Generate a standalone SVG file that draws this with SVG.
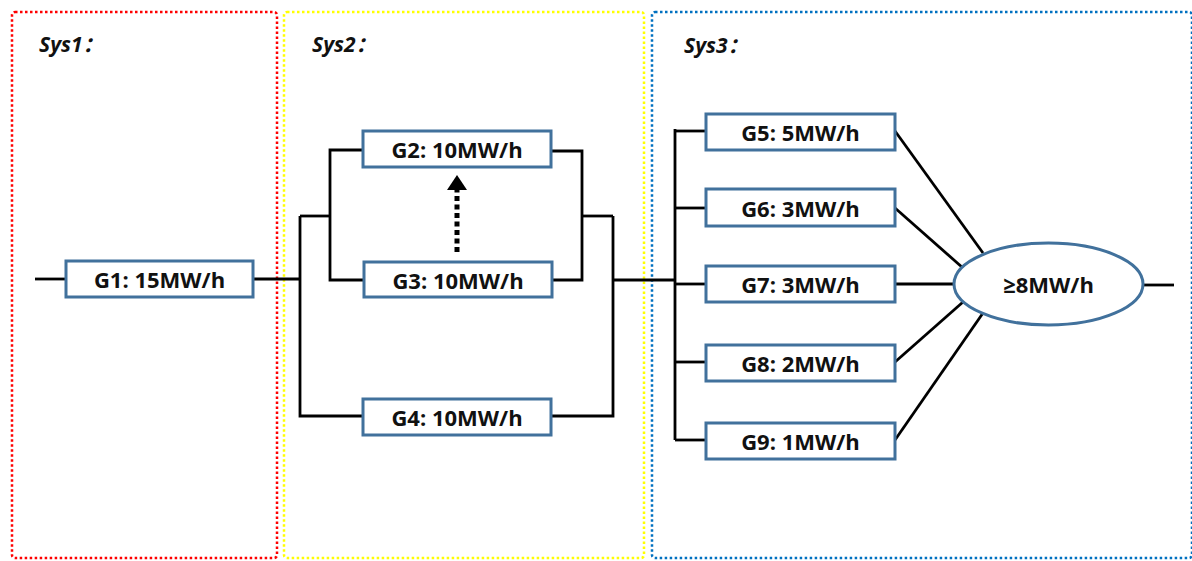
<svg xmlns="http://www.w3.org/2000/svg" width="1192" height="561" viewBox="0 0 1192 561">
<style>
.sys{fill:none;stroke-width:2.5;stroke-dasharray:2.5 2.5}
.node rect,.node ellipse{fill:#fff;stroke:#41719C;stroke-width:3}
.node text{font-family:"Open Sans","Noto Sans",sans-serif;font-weight:700;font-size:22px;fill:#111;text-anchor:middle;dominant-baseline:central}
.lbl{font-family:"Open Sans","Noto Sans CJK SC",sans-serif;font-weight:700;font-style:italic;font-size:21px;fill:#111}
#connectors path,#connectors line{fill:none;stroke:#000;stroke-width:2.8}
</style>
<rect width="1192" height="561" fill="#fff"/>
<g id="systems">
<rect class="sys" x="12" y="12" width="265" height="546" rx="3" stroke="#FF0000"/>
<rect class="sys" x="284" y="12" width="360" height="546" rx="3" stroke="#FFFF00"/>
<rect class="sys" x="652" y="12" width="540" height="546" rx="3" stroke="#0070C0"/>
<text class="lbl" x="39" y="52">Sys1：</text>
<text class="lbl" x="312" y="52">Sys2：</text>
<text class="lbl" x="684" y="53">Sys3：</text>
</g>
<g id="connectors">
<path d="M35 279H66"/>
<path d="M253 279H300"/>
<path d="M300 216V416H363"/>
<path d="M300 216H330"/>
<path d="M330 216V150H363"/>
<path d="M330 216V280H364"/>
<path d="M552 151H582V280H552"/>
<path d="M582 216H613"/>
<path d="M613 216V416H551"/>
<path d="M613 280H675"/>
<path d="M675 129V440"/>
<path d="M675 131H706"/>
<path d="M675 208H706"/>
<path d="M675 284H706"/>
<path d="M675 362H706"/>
<path d="M675 440H706"/>
<line x1="895" y1="131" x2="983" y2="253"/>
<line x1="895" y1="208" x2="963" y2="268"/>
<line x1="895" y1="284" x2="954" y2="284"/>
<line x1="895" y1="362" x2="963" y2="302"/>
<line x1="895" y1="440" x2="983" y2="313"/>
<line x1="1143" y1="285" x2="1174" y2="285"/>
<line x1="457" y1="252" x2="457" y2="190" style="stroke-width:5;stroke-dasharray:5 3.5"/>
<polygon points="457,175 447,190 467,190" fill="#000"/>
</g>
<g id="G1" class="node"><rect x="66" y="261" width="187" height="36"/><text x="159.5" y="279">G1: 15MW/h</text></g>
<g id="G2" class="node"><rect x="363" y="131" width="188" height="36"/><text x="457" y="149">G2: 10MW/h</text></g>
<g id="G3" class="node"><rect x="364" y="262" width="188" height="35"/><text x="458" y="280">G3: 10MW/h</text></g>
<g id="G4" class="node"><rect x="363" y="399" width="188" height="36"/><text x="457" y="417">G4: 10MW/h</text></g>
<g id="G5" class="node"><rect x="706" y="114" width="189" height="36"/><text x="800.5" y="132">G5: 5MW/h</text></g>
<g id="G6" class="node"><rect x="706" y="189" width="189" height="37"/><text x="800.5" y="207.5">G6: 3MW/h</text></g>
<g id="G7" class="node"><rect x="706" y="266" width="189" height="36"/><text x="800.5" y="284">G7: 3MW/h</text></g>
<g id="G8" class="node"><rect x="706" y="345" width="189" height="36"/><text x="800.5" y="363">G8: 2MW/h</text></g>
<g id="G9" class="node"><rect x="706" y="423" width="189" height="36"/><text x="800.5" y="441">G9: 1MW/h</text></g>
<g id="S" class="node"><ellipse cx="1048.5" cy="284" rx="94.5" ry="41"/><text x="1048.5" y="284">≥8MW/h</text></g>
</svg>
